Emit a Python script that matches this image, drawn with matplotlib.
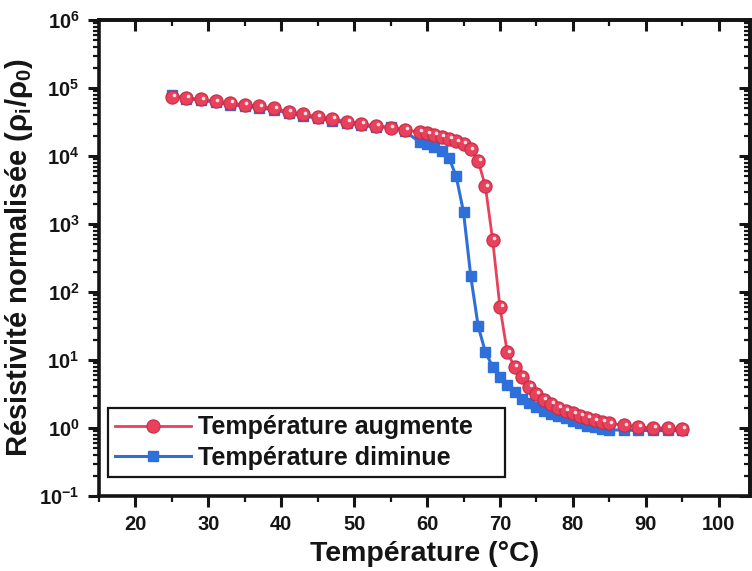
import numpy as np
import matplotlib
matplotlib.use("Agg")
import matplotlib.pyplot as plt
from matplotlib.ticker import MultipleLocator, FixedLocator, NullFormatter
from matplotlib.transforms import ScaledTranslation

# ---------------- data ----------------
temp_up = [25, 27, 29, 31, 33, 35, 37, 39, 41, 43, 45, 47, 49, 51, 53, 55, 57, 59,
           60, 61, 62, 63, 64, 65, 66, 67, 68, 69, 70, 71, 72, 73, 74, 75, 76, 77,
           78, 79, 80, 81, 82, 83, 84, 85, 87, 89, 91, 93, 95]
rho_up = [7.4e4, 7.1e4, 6.8e4, 6.4e4, 6.0e4, 5.7e4, 5.4e4, 5.0e4, 4.5e4, 4.1e4,
          3.8e4, 3.5e4, 3.2e4, 3.0e4, 2.75e4, 2.6e4, 2.4e4, 2.25e4,
          2.15e4, 2.05e4, 1.9e4, 1.8e4, 1.65e4, 1.5e4, 1.25e4, 8.5e3, 3.6e3, 5.8e2,
          60, 13, 8.0, 5.6, 4.0, 3.2, 2.6, 2.25, 2.0, 1.8, 1.65, 1.5, 1.4, 1.3,
          1.22, 1.17, 1.1, 1.03, 1.0, 1.0, 0.97]

temp_down = [25, 27, 29, 31, 33, 35, 37, 39, 41, 43, 45, 47, 49, 51, 53, 55, 57,
             59, 60, 61, 62, 63, 64, 65, 66, 67, 68, 69, 70, 71, 72, 73, 74, 75,
             76, 77, 78, 79, 80, 81, 82, 83, 84, 85, 87, 89, 91, 93, 95]
rho_down = [7.8e4, 7.0e4, 6.6e4, 6.2e4, 5.7e4, 5.4e4, 5.1e4, 4.8e4, 4.3e4, 3.9e4,
            3.6e4, 3.3e4, 3.1e4, 2.85e4, 2.65e4, 2.7e4, 2.3e4,
            1.6e4, 1.5e4, 1.35e4, 1.2e4, 9.5e3, 5.0e3, 1.5e3, 1.7e2, 32, 13, 8.0,
            5.7, 4.3, 3.4, 2.7, 2.3, 2.05, 1.78, 1.6, 1.48, 1.38, 1.27, 1.18, 1.08,
            1.02, 0.97, 0.94, 0.93, 0.92, 0.92, 0.92, 0.92]

label_up = "Température augmente"
label_down = "Température diminue"
x_label = "Température (°C)"
y_label = r"Résistivité normalisée ($\rho_i$/$\rho_0$)"
x_ticks = [20, 30, 40, 50, 60, 70, 80, 90, 100]
y_exponents = [-1, 0, 1, 2, 3, 4, 5, 6]

# ---------------- style ----------------
plt.rcParams["font.family"] = ["Liberation Sans", "DejaVu Sans"]
plt.rcParams["font.weight"] = "bold"
plt.rcParams["mathtext.fontset"] = "custom"
plt.rcParams["mathtext.rm"] = "Liberation Sans:bold"
plt.rcParams["mathtext.bf"] = "Liberation Sans:bold"
plt.rcParams["mathtext.it"] = "Liberation Sans:bold"
plt.rcParams["mathtext.default"] = "bf"

red = "#e8415b"
red_edge = "#c92a44"
blue = "#2f6fd9"
txt = "#151515"

fig = plt.figure(figsize=(7.52, 5.71), dpi=100)
ax = fig.add_axes([99 / 752, 1 - 496 / 571, 651 / 752, 476 / 571])

ax.plot(temp_down, rho_down, "-s", color=blue, lw=2.2, ms=7.5, mec=blue,
        label=label_down, zorder=3)
ax.plot(temp_up, rho_up, "-o", color=red, lw=2.0, ms=9.5, mec=red_edge, mew=0.8,
        label=label_up, zorder=4)
# small highlights on the red balls
hl = ax.transData + ScaledTranslation(1.2 / 72, 1.2 / 72, fig.dpi_scale_trans)
ax.plot(temp_up, rho_up, "o", color="white", ms=2.6, alpha=0.85, mew=0,
        transform=hl, zorder=5)

ax.set_yscale("log")
ax.set_ylim(0.1, 1e6)
ax.set_xlim(15, 104.3)

ax.set_xticks(x_ticks)
ax.set_xticklabels([str(v) for v in x_ticks])
ax.xaxis.set_minor_locator(MultipleLocator(5))

yt = [10.0 ** e for e in y_exponents]
ax.yaxis.set_major_locator(FixedLocator(yt))
ax.set_yticklabels([r"$\mathbf{10^{%d}}$" % e for e in y_exponents])
minor_y = [m * 10.0 ** e for e in y_exponents[:-1] for m in range(2, 10)]
ax.yaxis.set_minor_locator(FixedLocator(minor_y))
ax.yaxis.set_minor_formatter(NullFormatter())

for s in ax.spines.values():
    s.set_linewidth(2.6)
    s.set_color(txt)

ax.tick_params(which="both", direction="out", top=False, right=False,
               color=txt, labelcolor=txt)
ax.tick_params(which="major", length=8, width=2.2, labelsize=14.5, pad=6)
ax.tick_params(which="minor", length=4.5, width=1.6)

# mirrored inward ticks on top and right
top = ax.secondary_xaxis("top")
top.set_xticks(x_ticks)
top.xaxis.set_minor_locator(MultipleLocator(5))
top.tick_params(which="both", direction="in", labeltop=False, color=txt)
top.tick_params(which="major", length=8, width=2.2)
top.tick_params(which="minor", length=4.5, width=1.6)
top.spines["top"].set_linewidth(2.6)

right = ax.secondary_yaxis("right")
right.yaxis.set_major_locator(FixedLocator(yt))
right.yaxis.set_minor_locator(FixedLocator(minor_y))
right.yaxis.set_minor_formatter(NullFormatter())
right.tick_params(which="both", direction="in", labelright=False, color=txt)
right.tick_params(which="major", length=8, width=2.2)
right.tick_params(which="minor", length=4.5, width=1.6)
right.spines["right"].set_linewidth(2.6)

ax.set_xlabel(x_label, fontsize=20.5, fontweight="bold", color=txt, labelpad=5)
ax.set_ylabel(y_label, fontsize=21, fontweight="bold", color=txt, labelpad=3)

handles, labels = ax.get_legend_handles_labels()
leg = ax.legend(handles[::-1][:2], [label_up, label_down], loc="lower left",
                bbox_to_anchor=(9 / 651, 19 / 476, 397 / 651, 0.1), mode="expand",
                borderaxespad=0, fancybox=False,
                framealpha=1, edgecolor=txt, fontsize=18, numpoints=1,
                handlelength=3.0, handletextpad=0.3, labelspacing=0.25,
                borderpad=0.3)
leg.get_frame().set_linewidth(1.6)
for t in leg.get_texts():
    t.set_color(txt)
    t.set_fontweight("bold")

fig.savefig("out.png", dpi=100, facecolor="white")
